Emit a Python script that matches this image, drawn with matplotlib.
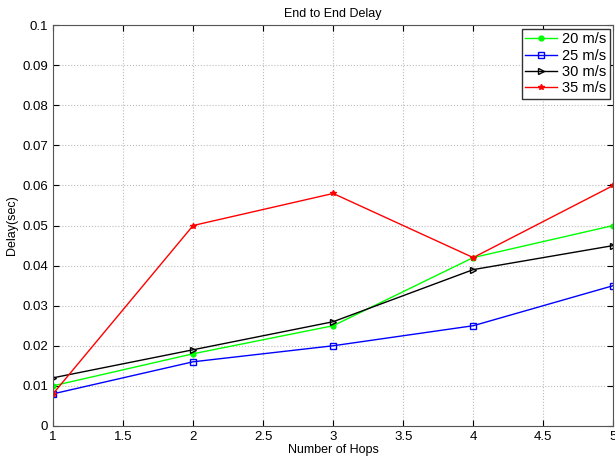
import matplotlib
matplotlib.use("Agg")
import matplotlib.pyplot as plt

hops = [1, 2, 3, 4, 5]
s20 = [0.010, 0.018, 0.025, 0.042, 0.050]
s25 = [0.008, 0.016, 0.020, 0.025, 0.035]
s30 = [0.012, 0.019, 0.026, 0.039, 0.045]
s35 = [0.008, 0.050, 0.058, 0.042, 0.060]
labels = ["20 m/s", "25 m/s", "30 m/s", "35 m/s"]
xticks = [1, 1.5, 2, 2.5, 3, 3.5, 4, 4.5, 5]
yticks = [0, 0.01, 0.02, 0.03, 0.04, 0.05, 0.06, 0.07, 0.08, 0.09, 0.1]

plt.rcParams['font.family'] = ['Liberation Sans', 'DejaVu Sans']
fig = plt.figure(figsize=(6.15, 4.57), dpi=100)
ax = fig.add_axes([0.0862, 0.068, 0.911, 0.877])

ax.plot(hops, s20, color='#00ff00', marker='o', markersize=3.5, lw=1, label=labels[0])
ax.plot(hops, s25, color='#0000ff', marker='s', markersize=4, mfc='none', lw=1, label=labels[1])
ax.plot(hops, s30, color='#000000', marker='>', markersize=4, mfc='none', lw=1, label=labels[2])
ax.plot(hops, s35, color='#ff0000', marker='*', markersize=4, lw=1, label=labels[3])

ax.set_xlim(1, 5)
ax.set_ylim(0, 0.1)
ax.set_xticks(xticks)
ax.set_xticklabels([('%g' % v) for v in xticks])
ax.set_yticks(yticks)
ax.set_yticklabels([('%g' % v) for v in yticks])
ax.tick_params(direction='in', labelsize=9.5, length=4, top=True, right=True)
ax.grid(True, linestyle=':', color='#bbbbbb', lw=0.8)
ax.set_title("End to End Delay", fontsize=9)
ax.set_xlabel("Number of Hops", fontsize=9, labelpad=1)
ax.set_ylabel("Delay(sec)", fontsize=9, labelpad=3)
ax.legend(loc='upper right', fontsize=10.5, handlelength=2.2, borderpad=0.25, labelspacing=0.15,
          fancybox=False, edgecolor='#333333', framealpha=1, handletextpad=0.3,
          borderaxespad=0.25)
for s in ax.spines.values():
    s.set_color('#555555')
fig.savefig("out.png", dpi=100)
